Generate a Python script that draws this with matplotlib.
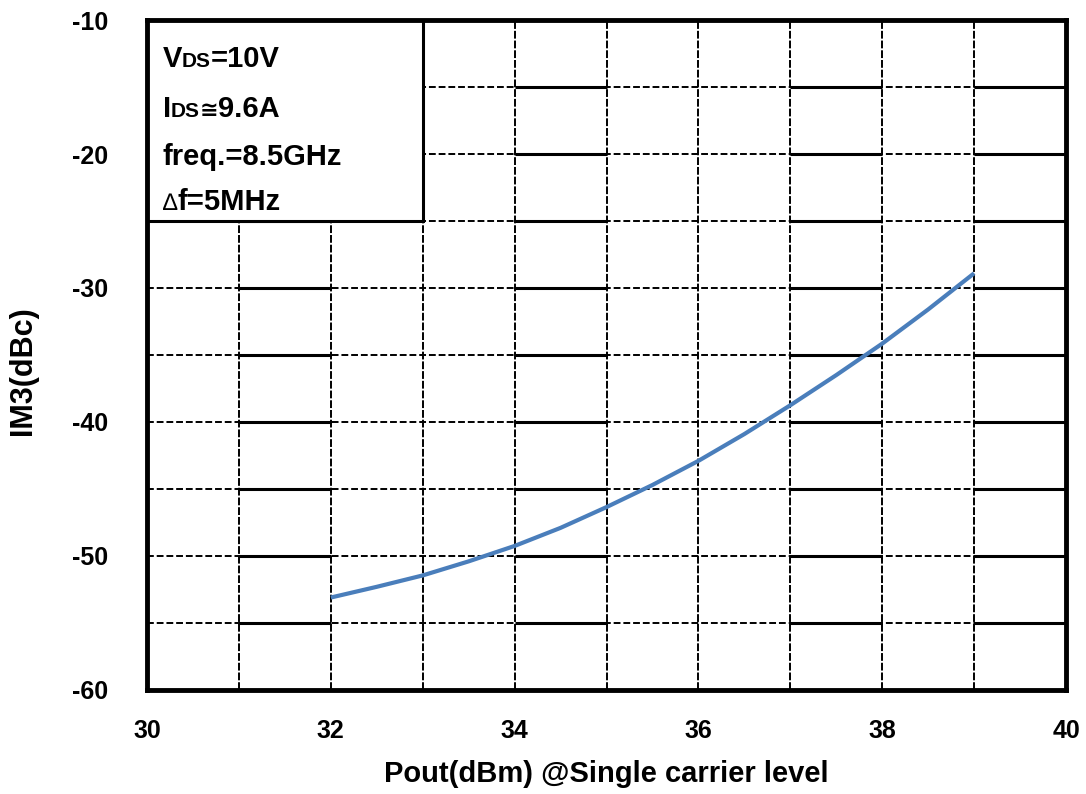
import numpy as np
import matplotlib.pyplot as plt
from matplotlib.patches import Rectangle

plt.rcParams['font.family'] = ['Liberation Sans', 'DejaVu Sans']
plt.rcParams['font.weight'] = 'bold'
plt.rcParams['axes.unicode_minus'] = False

# data
pout = [32, 32.5, 33, 33.5, 34, 34.5, 35, 35.5, 36, 36.5, 37, 37.5, 38, 38.5, 39]
im3 = [-53.1, -52.3, -51.45, -50.4, -49.25, -47.9, -46.35, -44.7, -42.9,
       -40.9, -38.75, -36.5, -34.15, -31.6, -28.9]

x_ticks = [30, 32, 34, 36, 38, 40]
y_ticks = [-10, -20, -30, -40, -50, -60]
x_grid = np.arange(31, 40, 1)
y_grid = np.arange(-55, -10, 5)

# conditions box, each line split in (text, size, weight) pieces
notes = [
    [('V', 21, 'bold'), ('DS', 15, 'bold'), ('=10V', 21, 'bold')],
    [('I', 21, 'bold'), ('DS', 15, 'bold'), ('\u2245', 16, 'bold'), ('9.6A', 21, 'bold')],
    [('freq.=8.5GHz', 21, 'bold')],
    [('\u2206', 17, 'normal'), ('f=5MHz', 21, 'bold')],
]
note_y = [-13.5, -17.25, -20.85, -24.2]

fig = plt.figure(figsize=(10.86, 7.94), dpi=100)
ax = fig.add_axes([0.1354, 0.131, 0.8462, 0.8438])
ax.set_xlim(30, 40)
ax.set_ylim(-60, -10)

# grid: dashed everywhere, solid in a few cells like the original
for xv in x_grid:
    ax.axvline(xv, color='black', lw=1.4, ls=(0, (4, 1)), zorder=1)
for yv in y_grid:
    ax.axhline(yv, color='black', lw=1.4, ls=(0, (3.5, 1.5)), zorder=1)
    for a, b in [(31, 32), (34, 35), (37, 38), (39, 40)]:
        ax.hlines(yv, a, b, color='black', lw=2.2, zorder=1)

# white box for the bias conditions
ax.add_patch(Rectangle((30, -25), 3, 15, facecolor='white', edgecolor='black',
                       lw=2.2, zorder=2))

ax.plot(pout, im3, color='#4A7EBB', lw=3, zorder=3, solid_capstyle='butt')

ax.set_xticks(x_ticks)
ax.set_yticks(y_ticks)
ax.tick_params(length=0, labelsize=18)
ax.tick_params(axis='x', pad=21)
ax.tick_params(axis='y', pad=28)
for lab in ax.get_xticklabels() + ax.get_yticklabels():
    lab.set_fontweight('bold')

ax.set_xlabel('Pout(dBm) @Single carrier level', fontsize=21, fontweight='bold', labelpad=12)
ax.set_ylabel('IM3(dBc)', fontsize=22, fontweight='bold', va='center')
ax.yaxis.set_label_coords(-0.135, 0.476)

for sp in ax.spines.values():
    sp.set_linewidth(3.5)
    sp.set_zorder(5)

# place text pieces one after another on the same baseline
fig.canvas.draw()
renderer = fig.canvas.get_renderer()
for parts, yy in zip(notes, note_y):
    xx = 30.17
    for s, fs, fw in parts:
        t = ax.text(xx, yy, s, fontsize=fs, fontweight=fw,
                    va='baseline', ha='left', zorder=4)
        bb = t.get_window_extent(renderer)
        xx = ax.transData.inverted().transform((bb.x1, bb.y0))[0]

fig.savefig('out.png', dpi=100)
